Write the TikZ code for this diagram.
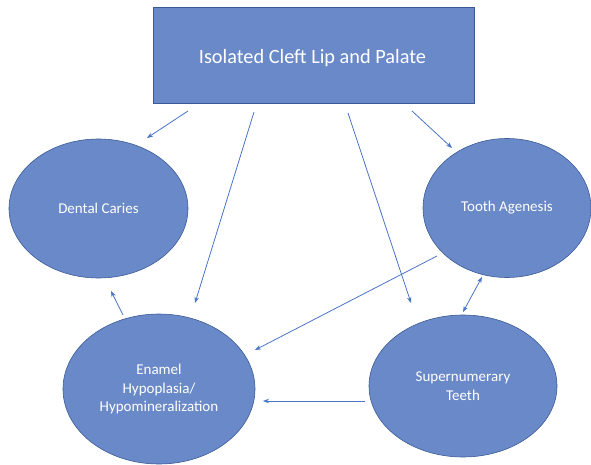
\documentclass[tikz,border=0pt]{standalone}
\usepackage{fontspec}
\setmainfont{Carlito}
\usetikzlibrary{shapes.geometric,arrows.meta}
\definecolor{boxfill}{HTML}{6A89C8}
\definecolor{boxline}{HTML}{3B5A95}
\definecolor{arrcol}{HTML}{4A74C6}
\tikzset{
  bubble/.style={ellipse, draw=boxline, line width=0.6pt, fill=boxfill, text=white, inner sep=0pt, align=center, font=\fontsize{15}{18.5}\selectfont},
  titlebox/.style={rectangle, draw=boxline, line width=0.6pt, fill=boxfill, text=white, inner sep=0pt},
  arr/.style={draw=arrcol, line width=0.8pt, -{Stealth[length=6pt,width=4.5pt]}},
  darr/.style={draw=arrcol, line width=0.8pt, {Stealth[length=6pt,width=4.5pt]}-{Stealth[length=6pt,width=4.5pt]}}
}
\begin{document}
\begin{tikzpicture}[x=1pt,y=-1pt]
\useasboundingbox (0,0) rectangle (591,465);
\node[titlebox, minimum width=321pt, minimum height=96pt] (top) at (313.5,55) {};
\node[text=white, font=\fontsize{20.3}{24}\selectfont] (title) at (312.5,58) {Isolated Cleft Lip and Palate};
\node[bubble, minimum width=179pt, minimum height=139pt] (dc) at (98.5,208.5) {Dental Caries};
\node[bubble, minimum width=168pt, minimum height=139pt] (ta) at (507,208) {Tooth Agenesis};
\node[bubble, minimum width=192pt, minimum height=150pt] (en) at (159,389) {Enamel\\Hypoplasia/\\Hypomineralization};
\node[bubble, minimum width=188pt, minimum height=142pt] (sn) at (463,386) {Supernumerary\\Teeth};
% connector end points
\coordinate (a1s) at (188,111); \coordinate (a1e) at (147,138);
\coordinate (a2s) at (254,112); \coordinate (a2e) at (195,303);
\coordinate (a3s) at (348,113); \coordinate (a3e) at (411,303);
\coordinate (a4s) at (412,111); \coordinate (a4e) at (452,148);
\coordinate (a5s) at (437,256); \coordinate (a5e) at (255,350);
\coordinate (a6s) at (123,315); \coordinate (a6e) at (111,291);
\coordinate (a7s) at (463,312); \coordinate (a7e) at (482,277);
\coordinate (a8s) at (365,401); \coordinate (a8e) at (263,401);
\draw[arr] (a1s) -- (a1e);
\draw[arr] (a2s) -- (a2e);
\draw[arr] (a3s) -- (a3e);
\draw[arr] (a4s) -- (a4e);
\draw[arr] (a5s) -- (a5e);
\draw[arr] (a6s) -- (a6e);
\draw[darr] (a7s) -- (a7e);
\draw[arr] (a8s) -- (a8e);
\end{tikzpicture}
\end{document}
